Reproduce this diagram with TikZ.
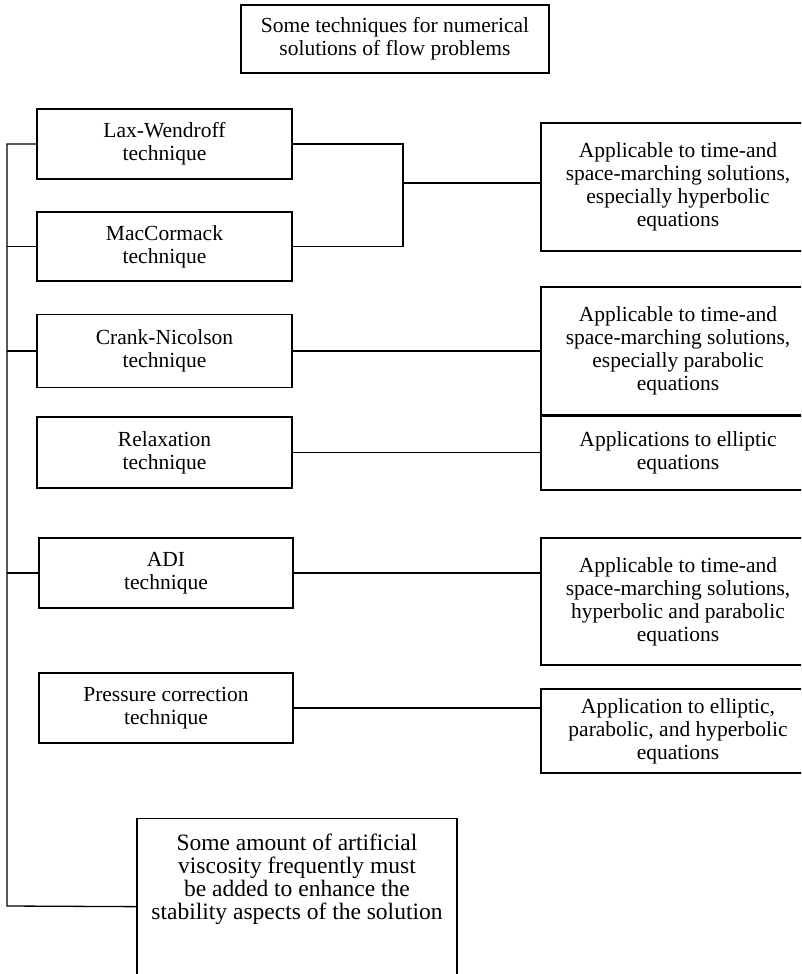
\documentclass[tikz,border=0pt]{standalone}
\usepackage{fontspec}
\setmainfont{Liberation Serif}

\begin{document}
\begin{tikzpicture}[x=1pt, y=-1pt,
font=\fontsize{21.5}{23}\selectfont,
box/.style={draw, line width=1.3pt, align=center, inner sep=0pt},
lbox/.style={box, minimum width=255pt, minimum height=70pt},
rbox/.style={box, minimum width=274pt, minimum height=128pt},
link/.style={line width=1.3pt}
]
\useasboundingbox (0,0) rectangle (801,974);
\clip (0,0) rectangle (801,974);

\node[box, minimum width=308pt, minimum height=68pt] (title) at (395,39) {Some techniques for numerical\\solutions of flow problems};

% left column: the techniques
\node[lbox] (lax) at (164.5,144) {Lax-Wendroff\\technique};
\node[lbox, minimum height=69pt] (mac) at (164.5,246.5) {MacCormack\\technique};
\node[lbox, minimum height=73pt] (crank) at (164.5,351) {Crank-Nicolson\\technique};
\node[lbox, minimum height=71pt] (relax) at (164.5,452.5) {Relaxation\\technique};
\node[lbox, minimum width=254pt] (adi) at (166,573) {ADI\\technique};
\node[lbox, minimum width=254pt] (press) at (166,708) {Pressure correction\\technique};
\node[box, anchor=north, inner ysep=15pt] (visc) at (297,818) {\parbox[t][146pt][t]{320pt}{\fontsize{23.5}{23}\selectfont\centering Some amount of artificial\\viscosity frequently must\\be added to enhance the\\stability aspects of the solution}};

% right column: where they apply
\node[rbox] (hyp) at (678,187) {Applicable to time-and\\space-marching solutions,\\especially hyperbolic\\equations};
\node[rbox] (par) at (678,351) {Applicable to time-and\\space-marching solutions,\\especially parabolic\\equations};
\node[rbox, minimum height=74pt] (ell) at (678,453) {Applications to elliptic\\equations};
\node[rbox, minimum height=127pt] (hp) at (678,601.5) {Applicable to time-and\\space-marching solutions,\\hyperbolic and parabolic\\equations};
\node[rbox, minimum height=84pt] (all) at (678,731) {Application to elliptic,\\parabolic, and hyperbolic\\equations};

\coordinate (join) at (403,183);
\coordinate (trunk) at (7,906);

\draw[link] (lax.east) -| (join) |- (mac.east);
\draw[link] (join) -- (join -| hyp.west);
\draw[link] (lax.west) -| (trunk) -- (visc.west);
\foreach \n in {mac,crank,adi}
  \draw[link] (\n.west) -- (\n.west -| trunk);
\foreach \a/\b in {crank/par,relax/ell,adi/hp,press/all}
  \draw[link] (\a.east) -- (\a.east -| \b.west);
\end{tikzpicture}
\end{document}
